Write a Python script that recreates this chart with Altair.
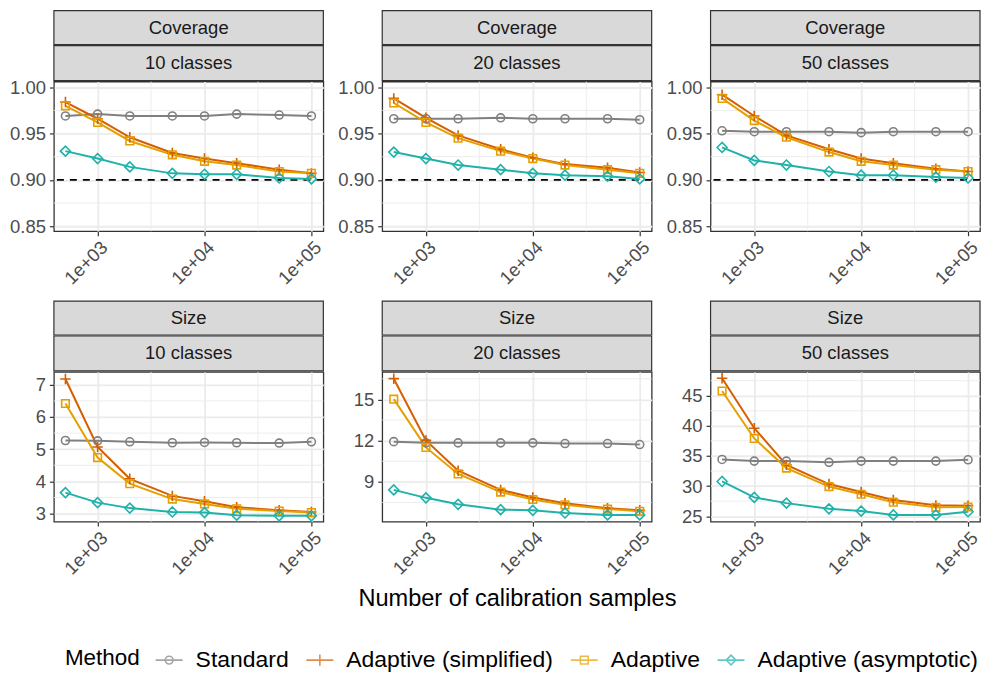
import altair as alt
import pandas as pd

FONT = "Liberation Sans"

samples = [500, 1000, 2000, 5000, 10000, 20000, 50000, 100000]
methods = ["Standard", "Adaptive (simplified)", "Adaptive", "Adaptive (asymptotic)"]
colors = ["#808080", "#D55E00", "#E69F00", "#20B2AA"]

# Coverage, 10 classes
cov10_standard = [0.969, 0.971, 0.969, 0.969, 0.969, 0.971, 0.970, 0.969]
cov10_simplified = [0.984, 0.966, 0.946, 0.929, 0.923, 0.918, 0.911, 0.907]
cov10_adaptive = [0.980, 0.962, 0.942, 0.927, 0.920, 0.916, 0.909, 0.907]
cov10_asymptotic = [0.931, 0.923, 0.914, 0.907, 0.906, 0.906, 0.902, 0.901]
# Coverage, 20 classes
cov20_standard = [0.966, 0.966, 0.966, 0.967, 0.966, 0.966, 0.966, 0.965]
cov20_simplified = [0.988, 0.967, 0.948, 0.933, 0.924, 0.917, 0.913, 0.908]
cov20_adaptive = [0.983, 0.962, 0.945, 0.931, 0.923, 0.916, 0.911, 0.907]
cov20_asymptotic = [0.930, 0.923, 0.916, 0.911, 0.907, 0.905, 0.904, 0.901]
# Coverage, 50 classes
cov50_standard = [0.953, 0.952, 0.952, 0.952, 0.951, 0.952, 0.952, 0.952]
cov50_simplified = [0.992, 0.969, 0.948, 0.933, 0.923, 0.918, 0.912, 0.909]
cov50_adaptive = [0.988, 0.964, 0.946, 0.930, 0.920, 0.916, 0.911, 0.909]
cov50_asymptotic = [0.935, 0.921, 0.916, 0.909, 0.905, 0.905, 0.903, 0.902]
# Size, 10 classes
size10_standard = [5.27, 5.26, 5.23, 5.20, 5.21, 5.20, 5.19, 5.23]
size10_simplified = [7.18, 5.07, 4.08, 3.55, 3.38, 3.20, 3.10, 3.05]
size10_adaptive = [6.42, 4.74, 3.93, 3.45, 3.30, 3.15, 3.08, 3.03]
size10_asymptotic = [3.65, 3.34, 3.17, 3.05, 3.03, 2.95, 2.93, 2.93]
# Size, 20 classes
size20_standard = [11.93, 11.84, 11.84, 11.84, 11.84, 11.79, 11.79, 11.72]
size20_simplified = [16.51, 12.02, 9.81, 8.42, 7.86, 7.44, 7.09, 6.93]
size20_adaptive = [15.02, 11.51, 9.58, 8.26, 7.72, 7.33, 7.02, 6.86]
size20_asymptotic = [8.42, 7.84, 7.37, 6.98, 6.93, 6.74, 6.60, 6.60]
# Size, 50 classes
size50_standard = [34.42, 34.15, 34.15, 33.94, 34.15, 34.15, 34.15, 34.37]
size50_simplified = [47.91, 39.60, 33.52, 30.34, 29.02, 27.70, 26.80, 26.75]
size50_adaptive = [45.79, 37.91, 32.99, 29.92, 28.65, 27.33, 26.48, 26.53]
size50_asymptotic = [30.77, 28.12, 27.17, 26.22, 25.85, 25.21, 25.21, 25.74]

x_domain = [390, 129400]
x_ticks = [1000, 10000, 100000]
x_minor = [3162.3, 31622.8]

cov_domain = [0.8445, 1.0062]
cov_ticks = [0.85, 0.90, 0.95, 1.00]
cov_minor = [0.875, 0.925, 0.975]
size10_domain = [2.75, 7.40]
size10_ticks = [3, 4, 5, 6, 7]
size10_minor = [3.5, 4.5, 5.5, 6.5]
size20_domain = [6.11, 17.0]
size20_ticks = [9, 12, 15]
size20_minor = [7.5, 10.5, 13.5, 16.5]
size50_domain = [24.1, 48.95]
size50_ticks = [25, 30, 35, 40, 45]
size50_minor = [27.5, 32.5, 37.5, 42.5, 47.5]
target_coverage = [0.9]

x_title = "Number of calibration samples"

W = 270
H = 150

point_shapes = [
    "M-0.8,0A0.8,0.8 0 1,0 0.8,0A0.8,0.8 0 1,0 -0.8,0Z",
    "M-1.05,0L1.05,0M0,-1.05L0,1.05",
    "M-0.76,-0.76L0.76,-0.76L0.76,0.76L-0.76,0.76Z",
    "M-1,0L0,-1L1,0L0,1Z",
]
legend_shapes = [
    "M-1,0L1,0M-0.29,0A0.29,0.29 0 1,0 0.29,0A0.29,0.29 0 1,0 -0.29,0Z",
    "M-1,0L1,0M0,-0.42L0,0.42",
    "M-1,0L1,0M-0.29,-0.29L0.29,-0.29L0.29,0.29L-0.29,0.29Z",
    "M-1,0L1,0M-0.36,0L0,-0.36L0.36,0L0,0.36Z",
]


def make_panel(metric, classes, series, ydom, yticks, yminor, yfmt,
               xtitle=False, hline=False, legend=False):
    rows = []
    for m, vals in zip(methods, series):
        for s, v in zip(samples, vals):
            rows.append({"samples": s, "value": v, "method": m})
    df = pd.DataFrame(rows)

    xscale = alt.Scale(type="log", domain=x_domain, nice=False)
    yscale = alt.Scale(domain=ydom, nice=False, zero=False)
    xaxis = alt.Axis(values=x_ticks,
                     labelExpr="'1e+0' + round(log(datum.value)/LN10)",
                     labelAngle=-45, labelAlign="right", labelBaseline="top",
                     labelPadding=2, titlePadding=9)
    yaxis = alt.Axis(values=yticks, format=yfmt)
    if xtitle:
        X = alt.X("samples:Q", scale=xscale, axis=xaxis, title=x_title)
    else:
        X = alt.X("samples:Q", scale=xscale, axis=xaxis, title=None)
    Y = alt.Y("value:Q", scale=yscale, axis=yaxis, title=None)

    cscale = alt.Scale(domain=methods, range=colors)
    sscale = alt.Scale(domain=methods, range=point_shapes)

    gx = alt.Chart(pd.DataFrame({"samples": x_minor})).mark_rule(
        color="#EBEBEB", strokeWidth=0.9).encode(x=X)
    gy = alt.Chart(pd.DataFrame({"value": yminor})).mark_rule(
        color="#EBEBEB", strokeWidth=0.9).encode(y=Y)
    layers = [gx, gy]
    if hline:
        layers.append(alt.Chart(pd.DataFrame({"value": target_coverage})).mark_rule(
            color="black", strokeWidth=1.9, strokeDash=[7, 6]).encode(y=Y))
    base = alt.Chart(df)
    layers.append(base.mark_line(strokeWidth=2.0).encode(
        x=X, y=Y, color=alt.Color("method:N", scale=cscale, legend=None)))
    layers.append(base.mark_point(filled=False, size=100, strokeWidth=1.6, opacity=1).encode(
        x=X, y=Y,
        color=alt.Color("method:N", scale=cscale, legend=None),
        shape=alt.Shape("method:N", scale=sscale, legend=None)))

    s1 = pd.DataFrame({"t": [metric]})
    s2 = pd.DataFrame({"t": [classes]})
    layers.append(alt.Chart(s1).mark_rect(fill="#D9D9D9", stroke="#333333", strokeWidth=1.2).encode(
        x=alt.value(0), x2=alt.value(W), y=alt.value(-71), y2=alt.value(-37)))
    layers.append(alt.Chart(s1).mark_text(font=FONT, fontSize=18.5, color="#1A1A1A").encode(
        x=alt.value(W / 2), y=alt.value(-54), text="t:N"))
    layers.append(alt.Chart(s2).mark_rect(fill="#D9D9D9", stroke="#333333", strokeWidth=1.2).encode(
        x=alt.value(0), x2=alt.value(W), y=alt.value(-36), y2=alt.value(-1)))
    layers.append(alt.Chart(s2).mark_text(font=FONT, fontSize=18.5, color="#1A1A1A").encode(
        x=alt.value(W / 2), y=alt.value(-18.5), text="t:N"))

    if legend:
        leg = alt.Legend(orient="none", legendX=11, legendY=274, direction="horizontal",
                         titleOrient="left", title="Method",
                         titleFont=FONT, titleFontSize=22.5, titleFontWeight="normal",
                         titleColor="black", labelFont=FONT, labelFontSize=23.0,
                         labelColor="black", symbolSize=729, symbolStrokeWidth=1.6,
                         labelOffset=12, columnPadding=13, titlePadding=14,
                         labelLimit=400)
        layers.append(base.transform_filter("false").mark_point(filled=False).encode(
            color=alt.Color("method:N", scale=alt.Scale(domain=methods, range=colors), legend=leg),
            shape=alt.Shape("method:N", scale=alt.Scale(domain=methods, range=legend_shapes), legend=leg)))

    ch = alt.layer(*layers).properties(width=W, height=H)
    if legend:
        ch = ch.resolve_scale(color="independent", shape="independent")
    return ch


p1 = make_panel("Coverage", "10 classes",
                [cov10_standard, cov10_simplified, cov10_adaptive, cov10_asymptotic],
                cov_domain, cov_ticks, cov_minor, ".2f", hline=True)
p2 = make_panel("Coverage", "20 classes",
                [cov20_standard, cov20_simplified, cov20_adaptive, cov20_asymptotic],
                cov_domain, cov_ticks, cov_minor, ".2f", hline=True)
p3 = make_panel("Coverage", "50 classes",
                [cov50_standard, cov50_simplified, cov50_adaptive, cov50_asymptotic],
                cov_domain, cov_ticks, cov_minor, ".2f", hline=True)
p4 = make_panel("Size", "10 classes",
                [size10_standard, size10_simplified, size10_adaptive, size10_asymptotic],
                size10_domain, size10_ticks, size10_minor, "d", legend=True)
p5 = make_panel("Size", "20 classes",
                [size20_standard, size20_simplified, size20_adaptive, size20_asymptotic],
                size20_domain, size20_ticks, size20_minor, "d", xtitle=True)
p6 = make_panel("Size", "50 classes",
                [size50_standard, size50_simplified, size50_adaptive, size50_asymptotic],
                size50_domain, size50_ticks, size50_minor, "d")

chart = alt.concat(p1, p2, p3, p4, p5, p6, columns=3,
                   spacing={"row": 141, "column": 59}, bounds="flush").properties(
    padding=0
).configure_view(
    stroke="#333333", strokeWidth=1.3
).configure_axis(
    grid=True, gridColor="#EBEBEB", gridWidth=1.8,
    domain=False, tickColor="#333333", tickWidth=1.2, tickSize=4.5,
    labelFont=FONT, labelFontSize=18.5, labelColor="#4D4D4D", labelPadding=4,
    titleFont=FONT, titleFontSize=23.6, titleColor="black", titleFontWeight="normal"
)

chart.save("out.html", embed_options={"renderer": "svg", "actions": False})
